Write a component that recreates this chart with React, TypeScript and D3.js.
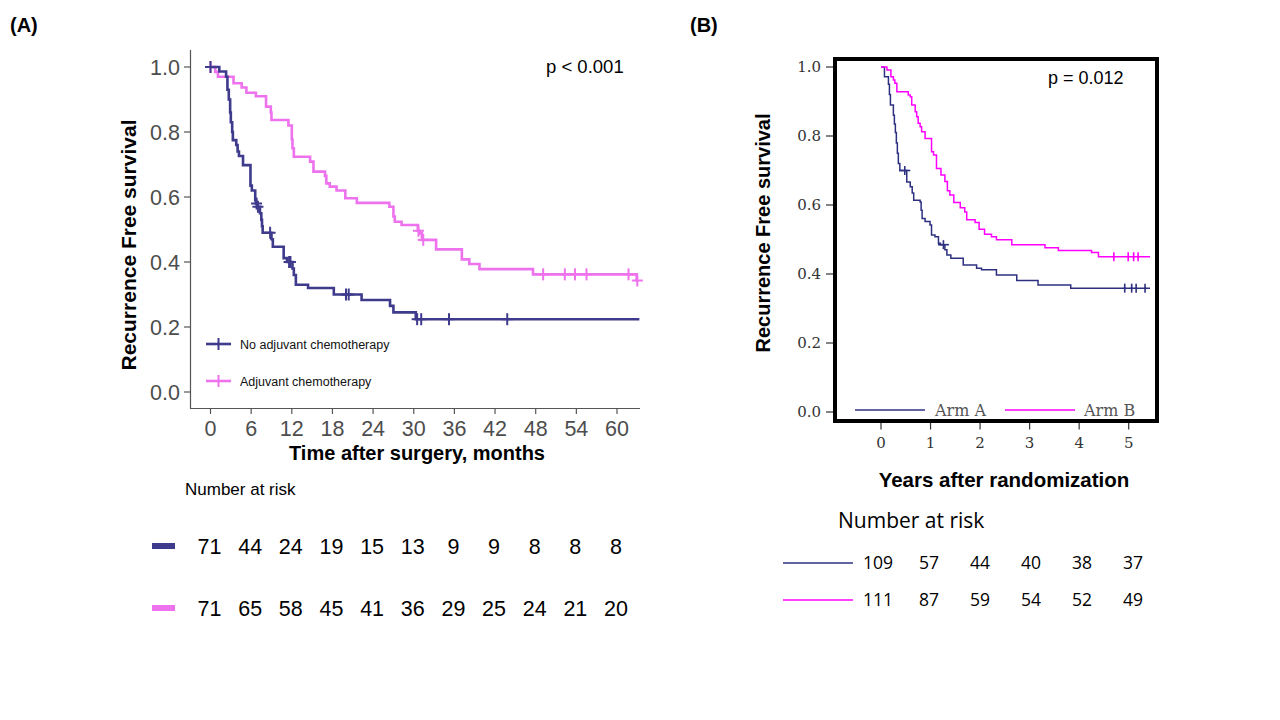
import React from "react";
import * as d3 from "d3";

// ---------- Panel A data (months) ----------
const A_TICKS_X = [0, 6, 12, 18, 24, 30, 36, 42, 48, 54, 60];
const A_TICKS_Y = [0, 0.2, 0.4, 0.6, 0.8, 1.0];

const A_NOADJ_TIME = [0, 1.3, 2.3, 2.5, 2.7, 2.9, 3.0, 3.2, 3.3, 3.8, 4.0, 4.2, 4.8, 5.9, 6.1, 6.6, 6.7, 6.9, 7.3, 7.5, 7.6, 7.7, 9.0, 9.2, 10.8, 11.3, 12.1, 12.3, 12.6, 14.4, 18.2, 22.3, 26.5, 27.0, 30.3];
const A_NOADJ_SURV = [1.0, 0.986, 0.97, 0.93, 0.9, 0.86, 0.83, 0.8, 0.775, 0.76, 0.74, 0.726, 0.698, 0.635, 0.62, 0.59, 0.58, 0.57, 0.55, 0.53, 0.51, 0.49, 0.47, 0.447, 0.412, 0.4, 0.38, 0.36, 0.33, 0.32, 0.3, 0.283, 0.265, 0.245, 0.224];
const A_NOADJ_CENS = [0, 6.8, 7.0, 8.8, 11.6, 11.8, 20.0, 20.4, 30.5, 31.1, 35.2, 43.8];
const A_NOADJ_END = 63.3;

const A_ADJ_TIME = [0, 0.7, 1.1, 3.4, 4.6, 5.3, 6.7, 8.2, 8.9, 9.0, 11.5, 12.0, 12.1, 12.3, 14.7, 15.2, 16.9, 17.1, 17.6, 18.6, 19.9, 21.6, 26.4, 27.0, 27.2, 28.2, 30.6, 30.9, 31.2, 33.3, 37.1, 38.2, 39.7, 47.6, 62.9];
const A_ADJ_SURV = [1.0, 0.985, 0.97, 0.95, 0.937, 0.921, 0.91, 0.878, 0.86, 0.837, 0.82, 0.777, 0.75, 0.724, 0.709, 0.678, 0.665, 0.642, 0.632, 0.62, 0.596, 0.582, 0.57, 0.54, 0.524, 0.514, 0.496, 0.488, 0.468, 0.439, 0.408, 0.394, 0.378, 0.362, 0.343];
const A_ADJ_CENS = [0, 30.7, 31.4, 49.1, 52.3, 53.8, 55.5, 61.7, 63.0];
const A_ADJ_END = 63.0;

const A_RISK_NOADJ = [71, 44, 24, 19, 15, 13, 9, 9, 8, 8, 8];
const A_RISK_ADJ = [71, 65, 58, 45, 41, 36, 29, 25, 24, 21, 20];

// ---------- Panel B data (years) ----------
const B_TICKS_X = [0, 1, 2, 3, 4, 5];
const B_TICKS_Y = [0, 0.2, 0.4, 0.6, 0.8, 1.0];

const B_ARMA_TIME = [0, 0.07, 0.15, 0.17, 0.19, 0.25, 0.27, 0.29, 0.31, 0.33, 0.35, 0.38, 0.52, 0.59, 0.63, 0.66, 0.79, 0.81, 0.83, 0.89, 0.99, 1.02, 1.09, 1.16, 1.2, 1.29, 1.33, 1.41, 1.66, 1.93, 2.03, 2.33, 2.74, 3.17, 3.83];
const B_ARMA_SURV = [1.0, 0.972, 0.95, 0.92, 0.89, 0.86, 0.835, 0.81, 0.78, 0.75, 0.72, 0.7, 0.667, 0.653, 0.635, 0.614, 0.609, 0.585, 0.561, 0.552, 0.542, 0.513, 0.508, 0.489, 0.485, 0.47, 0.455, 0.446, 0.426, 0.417, 0.412, 0.397, 0.381, 0.368, 0.359];
const B_ARMA_CENS = [0.48, 1.26, 4.92, 5.06, 5.15, 5.33];
const B_ARMA_END = 5.43;

const B_ARMB_TIME = [0, 0.12, 0.2, 0.25, 0.28, 0.32, 0.55, 0.59, 0.62, 0.69, 0.72, 0.75, 0.79, 0.82, 0.89, 1.02, 1.06, 1.12, 1.21, 1.29, 1.34, 1.39, 1.47, 1.6, 1.69, 1.73, 1.9, 1.98, 2.09, 2.23, 2.33, 2.64, 3.31, 3.58, 4.25, 4.39];
const B_ARMB_SURV = [1.0, 0.991, 0.972, 0.962, 0.953, 0.928, 0.919, 0.914, 0.89, 0.87, 0.856, 0.837, 0.827, 0.812, 0.793, 0.754, 0.745, 0.706, 0.687, 0.668, 0.641, 0.629, 0.607, 0.592, 0.58, 0.557, 0.549, 0.53, 0.515, 0.508, 0.499, 0.485, 0.476, 0.468, 0.462, 0.45];
const B_ARMB_CENS = [4.7, 4.99, 5.1, 5.19];
const B_ARMB_END = 5.43;

const B_RISK_A = [109, 57, 44, 40, 38, 37];
const B_RISK_B = [111, 87, 59, 54, 52, 49];

// ---------- styles ----------
const COL_A_NOADJ = "#3e3a8c";
const COL_A_ADJ = "#ee72ee";
const COL_B_A = "#2d3080";
const COL_B_B = "#ff00ff";
const SANS = "'Liberation Sans', Arial, sans-serif";
const SERIF = "'DejaVu Serif', serif";
const OPEN = "'Open Sans', sans-serif";

type Pt = { t: number; s: number };

function stepPoints(times: number[], survs: number[], end: number): Pt[] {
  const pts = times.map((t, i) => ({ t, s: survs[i] }));
  pts.push({ t: end, s: survs[survs.length - 1] });
  return pts;
}

function survAt(times: number[], survs: number[], t: number): number {
  let s = survs[0];
  for (let i = 0; i < times.length; i++) if (times[i] <= t) s = survs[i];
  return s;
}

function Plus({ x, y, w, h, color, sw }: { x: number; y: number; w: number; h: number; color: string; sw: number }) {
  return (
    <g stroke={color} strokeWidth={sw}>
      <line x1={x - w / 2} x2={x + w / 2} y1={y} y2={y} />
      <line x1={x} x2={x} y1={y - h / 2} y2={y + h / 2} />
    </g>
  );
}

export default function App() {
  const xA = d3.scaleLinear().domain([0, 60]).range([210.5, 617]);
  const yA = d3.scaleLinear().domain([0, 1]).range([392, 67]);
  const lineA = d3
    .line<Pt>()
    .x((d) => xA(d.t))
    .y((d) => yA(d.s))
    .curve(d3.curveStepAfter);

  const xB = d3.scaleLinear().domain([0, 5]).range([881, 1128.7]);
  const yB = d3.scaleLinear().domain([0, 1]).range([412, 67]);
  const xBRisk = d3.scaleLinear().domain([0, 5]).range([878, 1133]);
  const lineB = d3
    .line<Pt>()
    .x((d) => xB(d.t))
    .y((d) => yB(d.s))
    .curve(d3.curveStepAfter);

  const aNo = stepPoints(A_NOADJ_TIME, A_NOADJ_SURV, A_NOADJ_END);
  const aAdj = stepPoints(A_ADJ_TIME, A_ADJ_SURV, A_ADJ_END);
  const bA = stepPoints(B_ARMA_TIME, B_ARMA_SURV, B_ARMA_END);
  const bB = stepPoints(B_ARMB_TIME, B_ARMB_SURV, B_ARMB_END);

  const axisGray = "#4d4d4d";

  return (
    <svg width={1280} height={720} style={{ position: "absolute", left: 0, top: 0, background: "#fff" }} fontFamily={SANS}>
      <rect x={0} y={0} width={1280} height={720} fill="#fff" />

      {/* ================= Panel A ================= */}
      <text x={10} y={32} fontSize={20} fontWeight="bold" fill="#000">(A)</text>

      <line x1={190.5} x2={190.5} y1={50} y2={408.5} stroke="#555" strokeWidth={1.2} />
      <line x1={190} x2={640} y1={408.5} y2={408.5} stroke="#555" strokeWidth={1.2} />
      {A_TICKS_Y.map((v) => (
        <g key={"ay" + v}>
          <line x1={184} x2={190.5} y1={yA(v)} y2={yA(v)} stroke="#555" strokeWidth={1.2} />
          <text x={180} y={yA(v)} dy="0.36em" textAnchor="end" fontSize={21.5} fill={axisGray}>
            {v.toFixed(1)}
          </text>
        </g>
      ))}
      {A_TICKS_X.map((v) => (
        <g key={"ax" + v}>
          <line x1={xA(v)} x2={xA(v)} y1={408.5} y2={414} stroke="#555" strokeWidth={1.2} />
          <text x={xA(v)} y={435.5} textAnchor="middle" fontSize={21.5} fill={axisGray}>
            {v}
          </text>
        </g>
      ))}
      <text x={417} y={460} textAnchor="middle" fontSize={20} fontWeight="bold" fill="#000">
        Time after surgery, months
      </text>
      <text transform={`translate(136, 245) rotate(-90)`} textAnchor="middle" fontSize={21} fontWeight="bold" fill="#000">
        Recurrence Free survival
      </text>

      <path d={lineA(aAdj) || ""} fill="none" stroke={COL_A_ADJ} strokeWidth={2.6} />
      <path d={lineA(aNo) || ""} fill="none" stroke={COL_A_NOADJ} strokeWidth={2.6} />
      {A_ADJ_CENS.map((t, i) => (
        <Plus key={"aac" + i} x={xA(t)} y={yA(survAt(A_ADJ_TIME, A_ADJ_SURV, t))} w={11} h={12} color={COL_A_ADJ} sw={2} />
      ))}
      {A_NOADJ_CENS.map((t, i) => (
        <Plus key={"anc" + i} x={xA(t)} y={yA(survAt(A_NOADJ_TIME, A_NOADJ_SURV, t))} w={11} h={12} color={COL_A_NOADJ} sw={2} />
      ))}

      <text x={546} y={73} fontSize={18.5} fill="#000">p &lt; 0.001</text>

      <line x1={206} x2={231} y1={344} y2={344} stroke={COL_A_NOADJ} strokeWidth={2.6} />
      <Plus x={218.5} y={344} w={4} h={12} color={COL_A_NOADJ} sw={2} />
      <text x={240} y={344} dy="0.36em" fontSize={12.5} fill="#111">No adjuvant chemotherapy</text>
      <line x1={206} x2={231} y1={381} y2={381} stroke={COL_A_ADJ} strokeWidth={2.6} />
      <Plus x={218.5} y={381} w={4} h={12} color={COL_A_ADJ} sw={2} />
      <text x={240} y={381} dy="0.36em" fontSize={12.5} fill="#111">Adjuvant chemotherapy</text>

      <text x={185} y={495} fontSize={17} fill="#000">Number at risk</text>
      <rect x={152} y={543} width={23} height={6} fill={COL_A_NOADJ} />
      {A_RISK_NOADJ.map((n, i) => (
        <text key={"arn" + i} x={xA(A_TICKS_X[i]) - 1} y={546} dy="0.36em" textAnchor="middle" fontSize={21.5} fill="#000">
          {n}
        </text>
      ))}
      <rect x={152} y={605} width={23} height={6} fill={COL_A_ADJ} />
      {A_RISK_ADJ.map((n, i) => (
        <text key={"ara" + i} x={xA(A_TICKS_X[i]) - 1} y={608} dy="0.36em" textAnchor="middle" fontSize={21.5} fill="#000">
          {n}
        </text>
      ))}

      {/* ================= Panel B ================= */}
      <text x={690} y={32} fontSize={20} fontWeight="bold" fill="#000">(B)</text>

      {B_TICKS_Y.map((v) => (
        <g key={"by" + v}>
          <line x1={826} x2={835} y1={yB(v)} y2={yB(v)} stroke="#333" strokeWidth={1.2} />
          <text x={821} y={yB(v)} dy="0.36em" textAnchor="end" fontSize={15} fill="#333" fontFamily={SERIF}>
            {v.toFixed(1)}
          </text>
        </g>
      ))}
      {B_TICKS_X.map((v) => (
        <g key={"bx" + v}>
          <line x1={xB(v)} x2={xB(v)} y1={421} y2={429.5} stroke="#333" strokeWidth={1.2} />
          <text x={xB(v)} y={448} textAnchor="middle" fontSize={15} fill="#333" fontFamily={SERIF}>
            {v}
          </text>
        </g>
      ))}

      <path d={lineB(bA) || ""} fill="none" stroke={COL_B_A} strokeWidth={1.5} />
      <path d={lineB(bB) || ""} fill="none" stroke={COL_B_B} strokeWidth={1.5} />
      {B_ARMA_CENS.map((t, i) => (
        <Plus key={"bac" + i} x={xB(t)} y={yB(survAt(B_ARMA_TIME, B_ARMA_SURV, t))} w={i < 2 ? 11 : 2} h={9} color={COL_B_A} sw={1.6} />
      ))}
      {B_ARMB_CENS.map((t, i) => (
        <Plus key={"bbc" + i} x={xB(t)} y={yB(survAt(B_ARMB_TIME, B_ARMB_SURV, t))} w={2} h={9} color={COL_B_B} sw={1.6} />
      ))}

      <rect x={835} y={59} width={322} height={362} fill="none" stroke="#000" strokeWidth={4} />

      <text x={1048} y={84} fontSize={18} fill="#000">p = 0.012</text>

      <line x1={855} x2={925} y1={410} y2={410} stroke={COL_B_A} strokeWidth={1.3} />
      <text x={935} y={410} dy="0.36em" fontSize={16} fill="#555" fontFamily={SERIF}>Arm A</text>
      <line x1={1005} x2={1075} y1={410} y2={410} stroke={COL_B_B} strokeWidth={1.3} />
      <text x={1084} y={410} dy="0.36em" fontSize={16} fill="#555" fontFamily={SERIF}>Arm B</text>

      <text x={1004} y={487} textAnchor="middle" fontSize={20.5} fontWeight="bold" fill="#000">
        Years after randomization
      </text>
      <text transform={`translate(770, 233) rotate(-90)`} textAnchor="middle" fontSize={20} fontWeight="bold" fill="#000">
        Recurrence Free survival
      </text>

      <text x={838} y={528} fontSize={21} fill="#000" fontFamily={OPEN}>Number at risk</text>
      <line x1={783} x2={853} y1={563} y2={563} stroke={COL_B_A} strokeWidth={1.3} />
      {B_RISK_A.map((n, i) => (
        <text key={"bra" + i} x={xBRisk(B_TICKS_X[i])} y={563} dy="0.36em" textAnchor="middle" fontSize={17.5} fill="#000" fontFamily={OPEN}>
          {n}
        </text>
      ))}
      <line x1={783} x2={853} y1={600} y2={600} stroke={COL_B_B} strokeWidth={1.3} />
      {B_RISK_B.map((n, i) => (
        <text key={"brb" + i} x={xBRisk(B_TICKS_X[i])} y={600} dy="0.36em" textAnchor="middle" fontSize={17.5} fill="#000" fontFamily={OPEN}>
          {n}
        </text>
      ))}
    </svg>
  );
}
